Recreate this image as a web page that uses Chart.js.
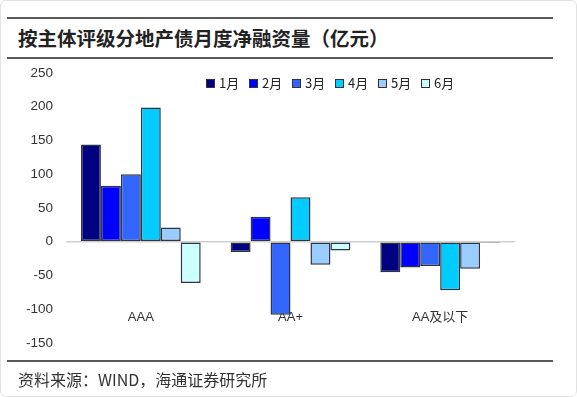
<!DOCTYPE html>
<html>
<head>
<meta charset="utf-8">
<script src="https://cdn.jsdelivr.net/npm/chart.js@4.4.0/dist/chart.umd.min.js"></script>
<style>
    html, body { margin: 0; padding: 0; background: #fff; }
    #card {
        position: relative;
        width: 575px;
        height: 395px;
        border: 1px solid #e2e2e2;
        border-radius: 6px;
        overflow: hidden;
        font-family: "Noto Sans CJK SC", "Liberation Sans", sans-serif;
    }
    .rule { position: absolute; left: 6px; width: 546px; height: 2px; background: #5a5a5a; }
    #title {
        position: absolute; left: 17px; top: 24px;
        font-size: 19.5px; font-weight: bold; color: #222; line-height: 26px;
    }
    #source {
        position: absolute; left: 17px; top: 367px;
        font-size: 16px; color: #333; line-height: 22px;
    }
    #chart-box { position: absolute; left: 0; top: 0; width: 577px; height: 397px; }
    #legend {
        position: absolute; left: 205px; top: 74px;
        display: flex; font-size: 13px; color: #222; line-height: 16px;
    }
    #legend .item { display: flex; align-items: center; width: 43px; }
    #legend .box { width: 7px; height: 7px; border: 1px solid #333; margin-right: 4px; }
</style>
</head>
<body>
<div id="card">
    <div class="rule" style="top:16px"></div>
    <div id="title">按主体评级分地产债月度净融资量（亿元）</div>
    <div class="rule" style="top:56px"></div>
    <div id="chart-box"><canvas id="bondChart"></canvas></div>
    <div id="legend"></div>
    <div class="rule" style="top:359px"></div>
    <div id="source">资料来源：WIND，海通证券研究所</div>
</div>
<script>
const categories = ['AAA', 'AA+', 'AA及以下'];
const months = ['1月', '2月', '3月', '4月', '5月', '6月'];
const jan = [144, -15, -45];
const feb = [83, 37, -38];
const mar = [100, -108, -36];
const apr = [199, 66, -72];
const may = [21, -34, -40];
const jun = [-61, -13, -2];
const monthColors = ['#000080', '#0000ff', '#3366ff', '#00ccff', '#99ccff', '#ccffff'];
const yTicks = [250, 200, 150, 100, 50, 0, -50, -100, -150];

const seriesValues = [jan, feb, mar, apr, may, jun];

function buildLegend() {
    const legend = document.getElementById('legend');
    months.forEach((m, i) => {
        const item = document.createElement('div');
        item.className = 'item';
        const box = document.createElement('span');
        box.className = 'box';
        box.style.background = monthColors[i];
        const label = document.createElement('span');
        label.textContent = m;
        item.appendChild(box);
        item.appendChild(label);
        legend.appendChild(item);
    });
}

function drawChart() {
    const ctx = document.getElementById('bondChart').getContext('2d');

    const datasets = months.map((m, i) => ({
        label: m,
        data: seriesValues[i],
        backgroundColor: monthColors[i],
        borderColor: '#2f3540',
        borderWidth: 1.5,
        borderSkipped: false,
        categoryPercentage: 0.8,
        barPercentage: 1.0
    }));

    new Chart(ctx, {
        type: 'bar',
        data: { labels: categories, datasets: datasets },
        options: {
            responsive: true,
            maintainAspectRatio: false,
            animation: false,
            layout: { padding: { left: 0, right: 63, top: 72, bottom: 54 } },
            plugins: {
                legend: { display: false },
                tooltip: { enabled: false }
            },
            scales: {
                x: {
                    grid: { display: false, drawTicks: false },
                    border: { display: false },
                    ticks: {
                        // mirrored so the labels sit inside the plot, as in the original
                        mirror: true,
                        padding: 18,
                        color: '#333',
                        font: { family: 'Liberation Sans, "Noto Sans CJK SC"', size: 13 }
                    },
                    afterFit: (scale) => { scale.height = 1; }
                },
                y: {
                    min: -150,
                    max: 250,
                    border: { display: false },
                    grid: {
                        drawTicks: false,
                        color: (c) => (c.tick && c.tick.value === 0 ? '#cfcfcf' : 'transparent'),
                        lineWidth: 1.5
                    },
                    afterBuildTicks: (scale) => {
                        scale.ticks = yTicks.map(v => ({ value: v }));
                    },
                    ticks: {
                        padding: 13,
                        color: '#333',
                        font: { family: 'Liberation Sans', size: 13.5 }
                    },
                    afterFit: (scale) => { scale.width = 65; }
                }
            }
        }
    });
}

window.onload = function() {
    buildLegend();
    drawChart();
};
</script>
</body>
</html>
